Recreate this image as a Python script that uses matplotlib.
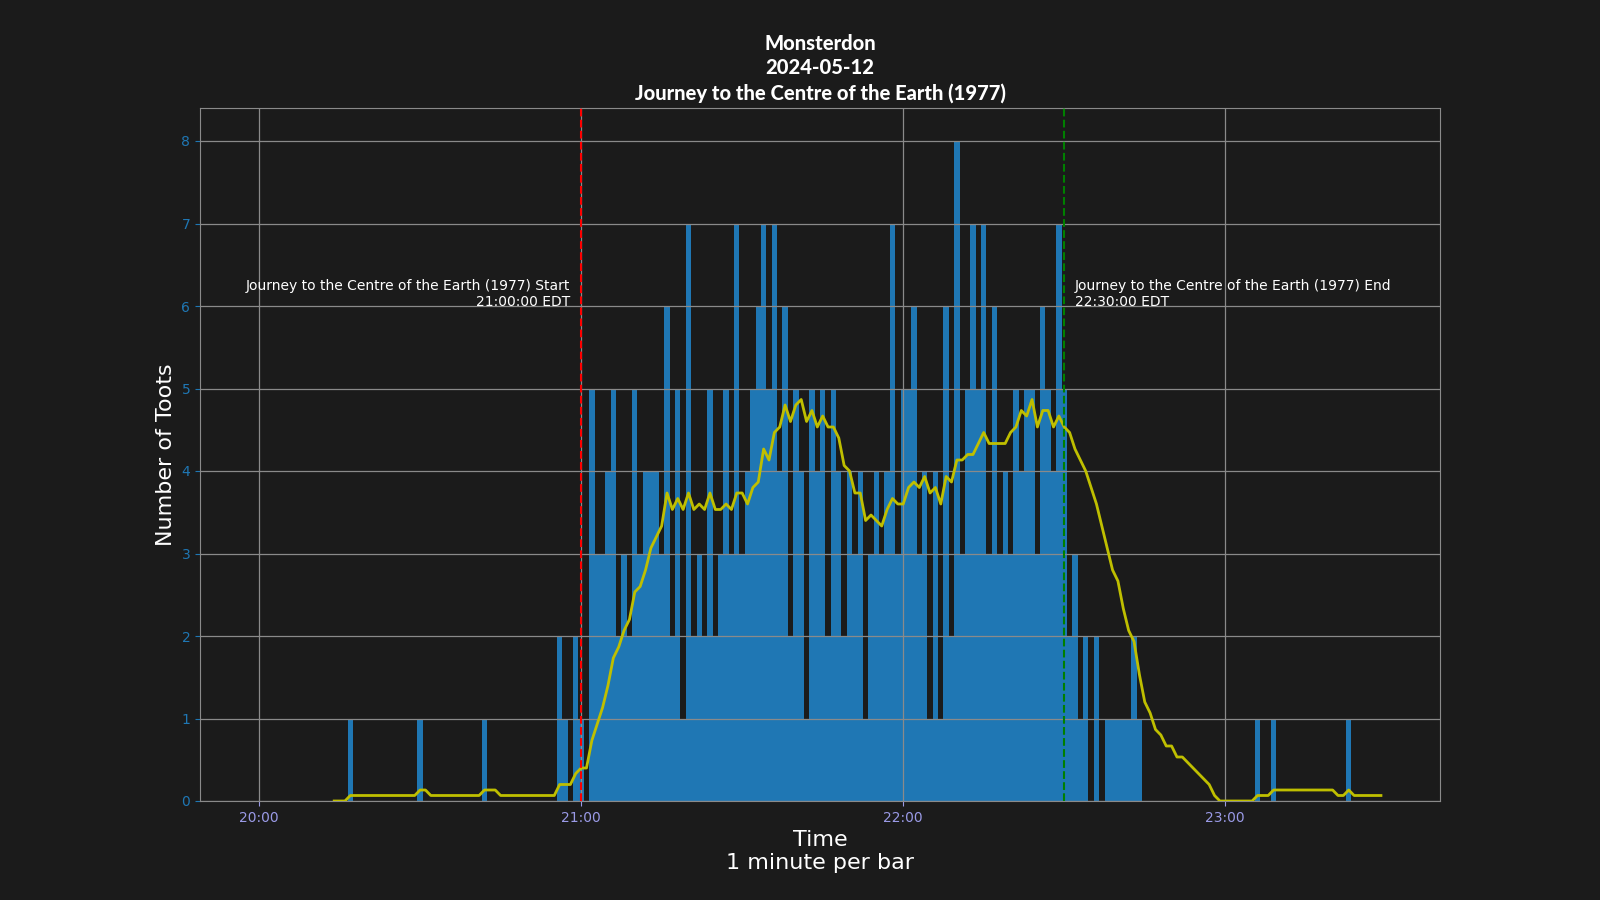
import matplotlib
matplotlib.use("Agg")
import matplotlib.pyplot as plt
import matplotlib.dates as mdates
import pandas as pd

# ---- data -------------------------------------------------------------
start_time = "2024-05-12 20:00"
# toots per minute, 20:00 .. 23:29 (one value per minute)
toots_per_minute = [
    0, 0, 0, 0, 0, 0, 0, 0, 0, 0,   # 20:00
    0, 0, 0, 0, 0, 0, 0, 1, 0, 0,   # 20:10
    0, 0, 0, 0, 0, 0, 0, 0, 0, 0,   # 20:20
    1, 0, 0, 0, 0, 0, 0, 0, 0, 0,   # 20:30
    0, 0, 1, 0, 0, 0, 0, 0, 0, 0,   # 20:40
    0, 0, 0, 0, 0, 0, 2, 1, 0, 2,   # 20:50
    1, 0, 5, 3, 3, 4, 5, 2, 3, 2,   # 21:00
    5, 3, 4, 4, 4, 3, 6, 2, 5, 1,   # 21:10
    7, 2, 3, 2, 5, 2, 3, 5, 3, 7,   # 21:20
    3, 4, 5, 6, 7, 5, 7, 4, 6, 2,   # 21:30
    5, 4, 1, 5, 4, 5, 2, 5, 4, 2,   # 21:40
    4, 3, 4, 1, 3, 4, 3, 4, 7, 3,   # 21:50
    5, 5, 6, 3, 4, 1, 4, 1, 6, 2,   # 22:00
    8, 3, 5, 7, 5, 7, 3, 6, 3, 4,   # 22:10
    3, 5, 4, 5, 5, 3, 6, 5, 4, 7,   # 22:20
    5, 2, 3, 1, 2, 0, 2, 0, 1, 1,   # 22:30
    1, 1, 1, 2, 1, 0, 0, 0, 0, 0,   # 22:40
    0, 0, 0, 0, 0, 0, 0, 0, 0, 0,   # 22:50
    0, 0, 0, 0, 0, 0, 1, 0, 0, 1,   # 23:00
    0, 0, 0, 0, 0, 0, 0, 0, 0, 0,   # 23:10
    0, 0, 0, 1, 0, 0, 0, 0, 0, 0,   # 23:20
]
rolling_window = 15

title_lines = ["Monsterdon", "2024-05-12", "Journey to the Centre of the Earth (1977)"]
show_name = "Journey to the Centre of the Earth (1977)"
show_start = "2024-05-12 21:00"
show_end = "2024-05-12 22:30"
start_label = "21:00:00 EDT"
end_label = "22:30:00 EDT"

# ---- derived ----------------------------------------------------------
times = pd.date_range(start_time, periods=len(toots_per_minute), freq="min")
series = pd.Series(toots_per_minute, index=times)
rolling = series.rolling(rolling_window).mean()

# ---- figure -----------------------------------------------------------
bg = "#1b1b1b"
grid_c = "#8a8a8a"
fig = plt.figure(figsize=(16, 9), dpi=100, facecolor=bg)
ax = fig.add_axes([0.125, 0.11, 0.775, 0.77])
ax.set_facecolor(bg)

ax.bar(times.to_pydatetime(), toots_per_minute, width=1 / 1440,
       color="#1f77b4", align="center", zorder=1)
ax.plot(times.to_pydatetime(), rolling.values, color="y", lw=2, zorder=3)

t0 = pd.Timestamp(show_start).to_pydatetime()
t1 = pd.Timestamp(show_end).to_pydatetime()
ax.axvline(t0, color="red", ls="--", lw=1.5, zorder=4)
ax.axvline(t1, color="green", ls="--", lw=1.5, zorder=4)

ax.annotate(f"{show_name} Start\n{start_label}", xy=(t0, 6.0),
            xytext=(-8, -2.5), textcoords="offset points",
            ha="right", va="bottom", multialignment="right",
            color="white", fontsize=10)
ax.annotate(f"{show_name} End\n{end_label}", xy=(t1, 6.0),
            xytext=(7.5, -2.5), textcoords="offset points",
            ha="left", va="bottom", multialignment="left",
            color="white", fontsize=10)

ax.set_ylim(0, 8.4)
ax.xaxis.set_major_locator(mdates.HourLocator())
ax.xaxis.set_major_formatter(mdates.DateFormatter("%H:%M"))

ax.grid(True, color=grid_c, lw=0.9)
for s in ax.spines.values():
    s.set_color(grid_c)
ax.tick_params(axis="x", colors="#9a9ae6", labelsize=10)
ax.tick_params(axis="y", colors="#1f77b4", labelsize=10)

ax.set_ylabel("Number of Toots", color="white", fontsize=16)
ax.set_xlabel("Time\n1 minute per bar", color="white", fontsize=16)

ax.set_title("\n".join(title_lines), color="white", fontsize=14.5,
             fontweight="black",
             family=["Lato", "Liberation Sans", "DejaVu Sans"],
             linespacing=1.35, pad=6)

fig.savefig("out.png", dpi=100, facecolor=bg)
